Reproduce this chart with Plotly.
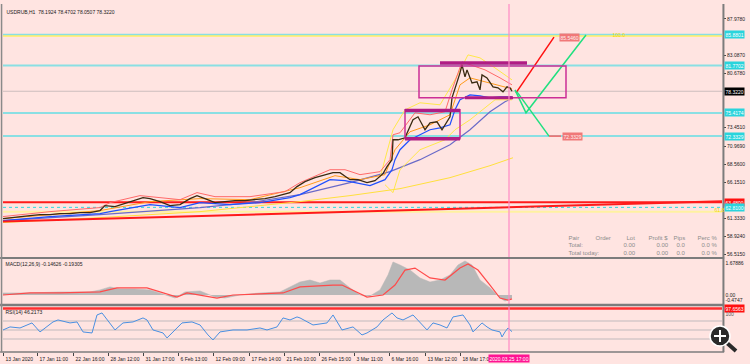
import plotly.graph_objects as go

# ---------------- data (bar index, value) ----------------
tick_bars = [0, 34, 70, 105, 140, 175, 210, 246, 281, 316, 351, 386, 422, 457]
tick_labels = ["13 Jan 2020", "17 Jan 11:00", "22 Jan 16:00", "28 Jan 12:00", "31 Jan 17:00",
               "6 Feb 13:00", "12 Feb 09:00", "17 Feb 14:00", "21 Feb 10:00", "26 Feb 15:00",
               "3 Mar 11:00", "6 Mar 16:00", "13 Mar 12:00", "18 Mar 17:00"]
current_bar = 506
current_label = "2020.03.25 17:00"

price_bar = [0, 7, 17, 27, 37, 47, 57, 67, 77, 87, 97, 102, 112, 122, 132, 140, 147, 157, 167, 177,
             187, 194, 202, 212, 222, 232, 242, 252, 262, 272, 280, 287, 294, 302, 312, 322, 330, 337, 347, 355,
             364, 372, 380, 384, 389, 390, 395, 402, 410, 415, 422, 427, 434, 439, 447, 449, 454, 457, 459, 462,
             464, 469, 474, 477, 479, 484, 490, 495, 500, 504, 507, 509]
price = [61.31, 61.44, 61.58, 61.71, 61.84, 61.84, 61.98, 61.98, 62.11, 62.11,
         62.38, 63.04, 62.91, 63.31, 63.71, 64.11, 63.98, 63.58, 63.04, 63.18,
         63.98, 64.38, 63.98, 63.44, 63.58, 63.71, 63.71, 63.84, 63.98, 64.24,
         64.51, 64.78, 65.58, 66.24, 66.78, 67.18, 67.44, 67.44, 66.51, 66.51,
         66.11, 66.38, 67.31, 68.24, 69.18, 71.84, 71.84, 72.11, 74.51, 74.91,
         73.18, 74.11, 74.24, 73.18, 74.91, 77.44, 79.44, 80.78, 81.84, 80.24,
         81.18, 79.44, 79.58, 78.51, 80.51, 80.11, 78.91, 78.78, 78.24, 78.91,
         78.78, 78.32]

blue_bar = [0, 47, 97, 107, 147, 177, 197, 227, 257, 287, 297, 327, 342, 367, 382, 389, 392, 397, 407, 417,
            427, 437, 447, 452, 457, 467, 477, 487, 497, 509]
blue = [61.04, 61.58, 61.98, 62.24, 63.18, 62.78, 63.44, 63.18, 63.44, 64.11, 64.51, 66.51, 66.38, 65.71,
        66.51, 67.84, 69.18, 70.51, 71.84, 72.51, 73.18, 73.44, 73.84, 75.84, 77.18, 77.84, 77.71, 77.44,
        77.58, 77.58]

red_bar = [0, 47, 97, 107, 137, 157, 177, 194, 212, 247, 282, 297, 327, 342, 357, 377, 387, 390, 397, 412,
           427, 442, 449, 459, 467, 482, 497, 509]
red = [61.58, 62.24, 62.78, 63.44, 64.38, 64.11, 63.84, 64.78, 64.24, 64.24, 64.91, 66.11, 67.84, 67.84,
       67.18, 67.58, 69.18, 72.51, 72.78, 75.44, 75.18, 75.58, 78.51, 82.24, 81.84, 81.18, 80.11, 79.18]

orange_bar = [0, 97, 147, 197, 247, 297, 332, 357, 382, 392, 407, 427, 447, 457, 467, 487, 509]
orange = [61.31, 62.38, 63.58, 63.98, 63.84, 65.44, 67.04, 66.51, 67.18, 70.51, 72.91, 73.84, 75.18,
          79.18, 80.11, 79.44, 78.64]

yup_bar = [377, 390, 402, 417, 437, 452, 465, 477, 492, 509]
yup = [66.78, 73.18, 75.84, 76.78, 76.51, 79.84, 83.18, 82.78, 81.44, 79.84]
ylo_bar = [382, 390, 397, 417, 442, 452, 467, 492, 509]
ylo = [65.84, 64.78, 67.84, 70.51, 71.84, 73.18, 74.51, 77.18, 77.18]

purple_bar = [0, 97, 197, 247, 297, 347, 387, 417, 447, 467, 487, 502, 510]
purple = [61.04, 61.84, 62.78, 63.44, 64.51, 66.11, 67.58, 69.18, 71.18, 73.18, 75.58, 76.91, 77.44]

yslow_bar = [0, 97, 197, 247, 297, 347, 397, 447, 487, 510]
yslow = [60.78, 61.44, 62.24, 62.91, 63.58, 64.38, 65.31, 66.78, 68.38, 69.44]

macd_bar = [0, 27, 57, 87, 97, 107, 117, 132, 147, 162, 172, 182, 197, 212, 222, 237, 257, 277, 287, 297,
            307, 317, 327, 337, 347, 357, 367, 377, 385, 390, 397, 407, 417, 427, 437, 447, 455, 462, 469, 477,
            487, 497, 502, 509]
macd_main = [0.10, 0.10, 0.15, 0.15, 0.25, 0.40, 0.30, 0.30, 0.25, 0.0, -0.15, 0.15, 0.20, -0.10, -0.15,
             0.0, 0.10, 0.15, 0.40, 0.64, 0.74, 0.59, 0.74, 0.74, 0.35, 0.0, -0.05, 0.25, 0.99, 1.63,
             1.48, 1.23, 0.84, 0.64, 0.74, 0.99, 1.48, 1.68, 1.48, 0.74, 0.35, -0.15, -0.30, -0.15]
sig_bar = [0, 27, 57, 97, 114, 144, 174, 184, 214, 230, 280, 297, 330, 339, 364, 380, 392, 402, 412, 427,
           442, 457, 465, 475, 487, 497, 505, 509]
macd_signal = [0.0, 0.10, 0.10, 0.15, 0.35, 0.35, -0.10, 0.10, -0.15, 0.0, 0.10, 0.40, 0.49, 0.49, -0.10,
               0.0, 0.49, 1.23, 1.33, 0.84, 0.74, 1.33, 1.53, 1.23, 0.49, -0.15, -0.25, -0.19]

rsi_bar = [0, 7, 17, 29, 37, 50, 55, 67, 74, 80, 89, 94, 99, 104, 112, 120, 130, 140, 144, 150,
           160, 164, 170, 179, 189, 197, 205, 210, 217, 230, 244, 257, 264, 274, 280, 287, 294, 297, 310, 324,
           330, 339, 350, 359, 364, 374, 380, 389, 394, 400, 410, 417, 424, 430, 437, 444, 450, 460, 467, 470,
           479, 484, 489, 497, 499, 502, 505, 509]
rsi = [50.0, 56.7, 54.4, 65.6, 45.6, 67.8, 72.2, 65.6, 67.8, 45.6,
       43.3, 83.3, 87.8, 72.2, 50.0, 65.6, 67.8, 76.7, 72.2, 50.0,
       43.3, 32.2, 45.6, 65.6, 67.8, 61.1, 38.9, 27.8, 45.6, 50.0,
       50.0, 54.4, 50.0, 56.7, 76.7, 72.2, 78.9, 76.7, 61.1, 65.6,
       83.3, 50.0, 56.7, 38.9, 43.3, 56.7, 72.2, 87.8, 76.7, 72.2,
       83.3, 65.6, 50.0, 65.6, 61.1, 54.4, 78.9, 83.3, 61.1, 45.6,
       65.6, 56.7, 50.0, 45.6, 34.4, 45.6, 54.4, 46.2]
rsi_levels = [70, 50, 30]
rsi_line = 97.6563

price_ticks = [87.978, 83.087, 80.678, 73.451, 70.969, 68.56, 66.151, 61.333, 58.924, 56.515]

# horizontal levels: (price, colour, width, dash)
hlines = [(85.8801, "#8adfe3", 2, "solid"), (85.70, "#fff066", 1.5, "solid"),
          (81.7702, "#8adfe3", 2, "solid"), (78.3220, "#cdbdbd", 1, "solid"),
          (75.4174, "#8adfe3", 2, "solid"), (72.3329, "#8adfe3", 2, "solid"),
          (63.48, "#ff1a1a", 2, "solid"), (62.81, "#30d8e0", 1, "dot"),
          (62.22, "#fff2a0", 2, "solid")]
trend_red = ([0, 719], [60.91, 63.62])
proj_red = ([513, 551], [78.10, 85.546])
proj_green1 = ([512, 523, 583], [78.51, 75.44, 85.84])
proj_green2 = ([514, 546], [78.24, 72.3329])

right_labels = [(85.8801, "85.8801", "#2ad4dc", "white"), (81.7702, "81.7702", "#2ad4dc", "white"),
                (78.3220, "78.3220", "black", "white"), (75.4174, "75.4174", "#2ad4dc", "white"),
                (72.3329, "72.3329", "#2ad4dc", "white"), (63.48, "63.4800", "#ff1010", "white"),
                (62.81, "62.8100", "#2ad4dc", "white")]

BG = "#FFE4E1"
FONT = "Liberation Sans"

fig = go.Figure()

def line(xs, ys, color, width, ax="y", dash="solid"):
    fig.add_trace(go.Scatter(x=xs, y=ys, mode="lines", yaxis=ax,
                             xaxis={"y": "x", "y2": "x2", "y3": "x3"}[ax],
                             line=dict(color=color, width=width, dash=dash),
                             hoverinfo="skip", showlegend=False))

# main panel indicators
line(yslow_bar, yslow, "#ffe03c", 1)
line(purple_bar, purple, "#6a6ac8", 1.2)
line(ylo_bar, ylo, "#ffe84a", 1)
line(yup_bar, yup, "#ffe84a", 1)
line(orange_bar, orange, "#ff9a1a", 1)
line(red_bar, red, "#ff6a6a", 1)
line(blue_bar, blue, "#2050ff", 1.2)
line(price_bar, price, "#3a2a12", 1.3)
line(trend_red[0], trend_red[1], "#ff1a1a", 2)
line(proj_red[0], proj_red[1], "#ff1010", 1.5)
line(proj_green1[0], proj_green1[1], "#20e080", 1.5)
line(proj_green2[0], proj_green2[1], "#20e080", 1.5)
line([546, 558], [72.3329, 72.3329], "#ff6060", 1.5)

# MACD
fig.add_trace(go.Scatter(x=macd_bar, y=macd_main, mode="lines", fill="tozeroy", xaxis="x2", yaxis="y2",
                         line=dict(color="#b4b4b4", width=0.5), fillcolor="#b8b8b8",
                         hoverinfo="skip", showlegend=False))
line(sig_bar, macd_signal, "#ff4a4a", 1.2, ax="y2")

# RSI
for lv in rsi_levels:
    line([0, 719], [lv, lv], "#d6c8c8", 1.5, ax="y3")
line([0, 719], [rsi_line, rsi_line], "#ff3030", 2.5, ax="y3")
line(rsi_bar, rsi, "#4a90e2", 1, ax="y3")

shapes = []
for p, c, w, d in hlines:
    shapes.append(dict(type="line", xref="x", yref="y", x0=0, x1=719, y0=p, y1=p,
                       line=dict(color=c, width=w, dash=d), layer="below"))
# boxes
BOX = "#cc2f96"
shapes.append(dict(type="rect", xref="x", yref="y", x0=416, x1=563, y0=77.44, y1=81.71,
                   line=dict(color=BOX, width=1.5)))
shapes.append(dict(type="rect", xref="x", yref="y", x0=402, x1=457, y0=71.98, y1=75.84,
                   line=dict(color=BOX, width=1.5)))
for x0, x1, yy, w in [(437, 524, 82.11, 3.5), (462, 510, 77.44, 3), (402, 457, 75.74, 3.5), (402, 457, 71.98, 3.5)]:
    shapes.append(dict(type="line", xref="x", yref="y", x0=x0, x1=x1, y0=yy, y1=yy,
                       line=dict(color="#b01c84", width=w)))
# current bar vertical line
shapes.append(dict(type="line", xref="x", yref="paper", x0=current_bar, x1=current_bar, y0=0, y1=1,
                   line=dict(color="#ff8ac4", width=1.2)))
# panel separators and frame
for yp, w in [(0.2701, 2), (0.1351, 2.5), (0.0, 1.5)]:
    shapes.append(dict(type="line", xref="paper", yref="paper", x0=-0.004, x1=1.003, y0=yp, y1=yp,
                       line=dict(color="#7c7c7c", width=w)))
shapes.append(dict(type="line", xref="paper", yref="paper", x0=-0.002, x1=-0.002, y0=0, y1=1.0,
                   line=dict(color="#8a8a8a", width=1.5)))
shapes.append(dict(type="line", xref="paper", yref="paper", x0=1.002, x1=1.002, y0=0, y1=1.0,
                   line=dict(color="#7c7c7c", width=2)))
# magnifier overlay
shapes.append(dict(type="line", xref="paper", yref="paper", x0=1.00695, y0=0.02586, x1=1.01947, y1=0.00287,
                   line=dict(color="#2a2a2a", width=4)))
shapes.append(dict(type="circle", xref="paper", yref="paper", x0=0.98331, x1=1.01113, y0=0.01724, y1=0.07471,
                   fillcolor="#2a2a2a", line=dict(color="white", width=1.5)))
shapes.append(dict(type="line", xref="paper", yref="paper", x0=0.9889, x1=1.0056, y0=0.04598, y1=0.04598,
                   line=dict(color="white", width=2)))
shapes.append(dict(type="line", xref="paper", yref="paper", x0=0.99722, x1=0.99722, y0=0.0287, y1=0.0632,
                   line=dict(color="white", width=2)))

ann = []
def txt(x, y, s, size=5, color="#1a1a1a", xref="paper", yref="paper", xanchor="left", bg=None, **kw):
    d = dict(x=x, y=y, text=s, xref=xref, yref=yref, xanchor=xanchor, yanchor="middle", showarrow=False,
             font=dict(family=FONT, size=size, color=color), borderpad=0.5)
    if bg:
        d["bgcolor"] = bg
    d.update(kw)
    ann.append(d)

def py(px):
    return (352 - px) / 348.0

def pxx(px):
    return (px - 3) / 719.0

txt(pxx(5), py(12), "USDRUB,H1  78.1924 78.4702 78.0507 78.3220")
txt(pxx(4), py(263), "MACD(12,26,9) -0.14626 -0.19305")
txt(pxx(4), py(311), "RSI(14) 46.2173")

for p, s, bg, fc in right_labels:
    txt(1, p, s, xref="paper", yref="y", bg=bg, color=fc, xshift=2)
txt(1, py(262), "1.67886", xshift=2)
txt(1, py(294), "0.00", xshift=2)
txt(1, py(299), "-0.4747", xshift=2)
txt(1, rsi_line, "97.6563", yref="y3", bg="#ff1010", color="white", xshift=2)
txt(1, py(313), "100", xshift=2, color="#555")

txt(608, 85.95, "100.0", xref="x", yref="y", color="#f0d800", size=5)
txt(710, 62.55, "61.8", xref="x", yref="y", color="#f0d800", size=5)
txt(556, 85.546, "85.5460", xref="x", yref="y", color="#fff0f0", bg="#f07878")
txt(559, 72.3329, "72.3329", xref="x", yref="y", color="#fff0f0", bg="#f07878")

# trade info panel
G = "#8c8c8c"
for s, xr in [("Order", 612), ("Lot", 637), ("Profit $", 670), ("Pips", 687), ("Perc %", 719)]:
    txt(pxx(xr), py(237), s, size=6, color=G, xanchor="right")
txt(pxx(567), py(237), "Pair", size=6, color=G)
txt(pxx(567), py(244), "Total:", size=6, color=G)
txt(pxx(567), py(252), "Total today:", size=6, color=G)
for row in (244, 252):
    for s, xr in [("0.00", 637), ("0.00", 670), ("0.0", 687), ("0.0 %", 719)]:
        txt(pxx(xr), py(row), s, size=6, color=G, xanchor="right")

# date labels
for b, s in zip(tick_bars, tick_labels):
    txt(b, py(358), s, xref="x3", xshift=1)
txt(current_bar, py(358), current_label, xref="x3", xanchor="center", bg="#ff1493", color="white")

axis_common = dict(range=[0, 719], showgrid=False, zeroline=False, showline=False, showticklabels=False)
fig.update_layout(
    width=750, height=364, margin=dict(l=3, r=28, t=4, b=12),
    paper_bgcolor=BG, plot_bgcolor=BG,
    font=dict(family=FONT, size=5, color="#1a1a1a"),
    showlegend=False,
    xaxis=dict(domain=[0, 1], anchor="y", **axis_common),
    xaxis2=dict(domain=[0, 1], anchor="y2", matches="x", **axis_common),
    xaxis3=dict(domain=[0, 1], anchor="y3", matches="x", ticks="outside", ticklen=3, tickcolor="#444",
                tickvals=tick_bars, range=[0, 719], showgrid=False, zeroline=False, showline=False,
                showticklabels=False),
    yaxis=dict(domain=[0.2701, 1.0], range=[56.045, 89.978], side="right", anchor="x",
               tickvals=price_ticks, ticktext=["%.4f" % v for v in price_ticks],
               ticks="outside", ticklen=3, tickcolor="#444", tickfont=dict(size=5, color="#222"),
               showgrid=False, zeroline=False, showline=False),
    yaxis2=dict(domain=[0.1351, 0.2644], range=[-0.494, 1.728], side="right", anchor="x2",
                showticklabels=False, showgrid=False, zeroline=False, ticks=""),
    yaxis3=dict(domain=[0, 0.1293], range=[1, 101], side="right", anchor="x3",
                showticklabels=False, showgrid=False, zeroline=False, ticks=""),
    shapes=shapes, annotations=ann,
)
fig.write_html("out.html", config={"displayModeBar": False},
               post_script="document.body.style.margin='0';document.body.style.overflow='hidden';")
